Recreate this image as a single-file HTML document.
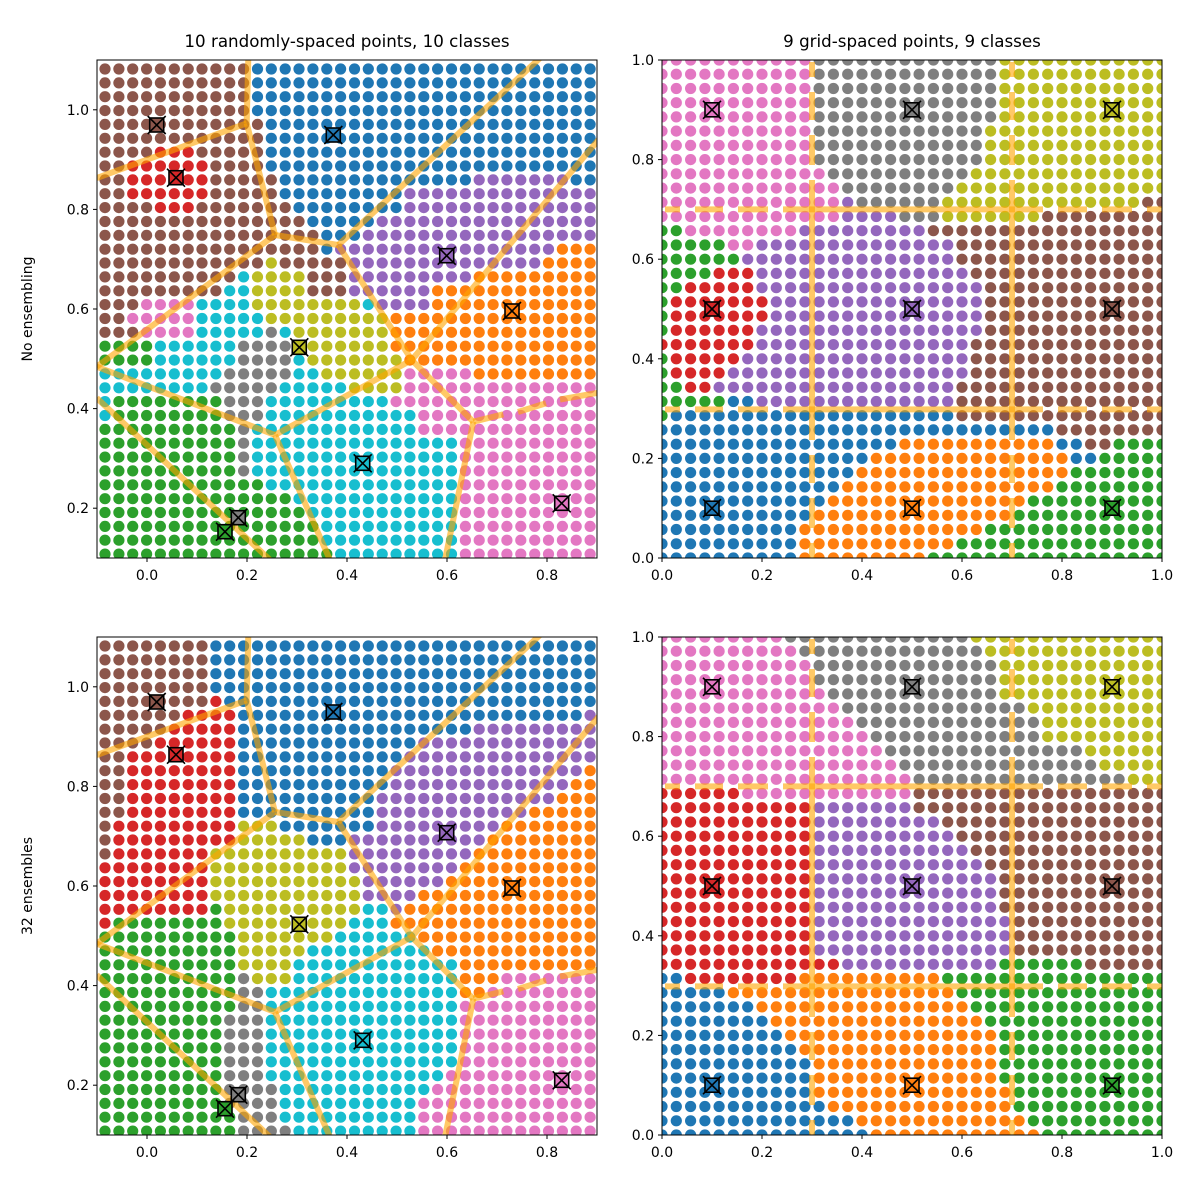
<!DOCTYPE html>
<html><head><meta charset="utf-8"><style>
html,body{margin:0;padding:0;background:#fff;}
svg{display:block;font-family:"DejaVu Sans","Liberation Sans",sans-serif;}
</style></head><body>
<svg id="s" width="1200" height="1200" xmlns="http://www.w3.org/2000/svg"></svg>
<script>
const C={b:'#1f77b4',o:'#ff7f0e',g:'#2ca02c',r:'#d62728',p:'#9467bd',n:'#8c564b',k:'#e377c2',y:'#7f7f7f',l:'#bcbd22',c:'#17becf'};
function ex(s){let r=s.split(' ').map(t=>t[0].repeat(+t.slice(1))).join('');while(r.length<36)r+=r[r.length-1];return r.slice(0,36);}
function rep(a,n){return Array(n).fill(a);}
const TL=[...rep("n11 b25",4),"n12 b24","n12 b24","n4 r3 n5 b24","n2 r6 n4 b24","n2 r6 n5 b14 p7 b2","n2 r6 n5 b9 p14","n4 r3 n7 b8 p14","n15 b5 p16","n16 b3 p17","n16 b1 p16 o3","n12 l1 n5 p14 o4","n10 c1 l4 n3 p9 o9","n9 c2 l4 n3 p6 o12","n3 k4 c4 l8 c1 p4 o12","n2 k5 c5 l9 o15","n3 k4 c5 y1 c1 l7 o15","g4 c6 y4 l7 o15","g4 c6 y4 c1 l7 o14","c9 y5 c2 l6 k5 o9","c8 y5 c5 l4 k14","c1 g8 y3 c9 k15","c1 g8 y3 c11 k13","g10 y1 c12 k13","g10 y1 c15 k10","g10 y1 c15 k10","g10 y1 c15 k10","g12 c14 k10","g14 c12 k10","g15 c11 k10","g16 c10 k10","g16 c10 k10","g17 c9 k10"];
const BL=[...rep("n8 b28",4),"n8 r1 b27","n6 r4 b25 p1","n5 r5 b17 p9","n4 r6 b13 p13","n2 r8 b12 p14","n2 r8 b11 p14 o1","n2 r8 b11 p13 o2","n2 r8 b10 p13 o3","n2 r8 b10 p11 o5","n1 r9 l3 b7 p9 o7","n1 r9 l5 b3 p10 o8","n1 r7 l10 p9 o9","r8 l10 p8 o10","r8 l11 p6 o11","r8 l11 p4 o13","r8 g1 l10 c2 p1 o14","r1 g8 l9 c3 o15","g10 l7 c6 o13","g10 l5 c9 o12","g10 l4 c12 o10","g10 y1 l3 c12 o3 k7","g10 y2 c14 o2 k8","g10 y2 c14 k10","g9 y3 c14 k10","g9 y3 c14 k10","g9 y3 c14 k10","g9 y3 c14 k10","g9 y3 c13 k11","g9 y4 c11 k12","g9 y4 c10 k13","g10 y3 c10 k13","g10 y4 c9 k13"];
const TR=[...rep("k11 y13 l12",5),"k11 y12 l13","k11 y12 l13","k11 y12 l13","k12 y10 l14","k13 y8 l15","k13 p1 y6 l14 n2","k13 p4 y3 l7 n9","g2 k8 p9 n17","g5 k2 p14 n15","g6 p15 n15","g4 r3 p15 n14","g2 r5 p16 n13","g1 r7 p15 n13","g1 r7 p15 n13","g1 r6 p16 n13","r7 p15 n14","g1 r5 p16 n14","g1 r4 p17 n14","g2 r2 p17 n15","g5 b2 p14 n15","g1 b20 n15","b28 n8","b17 o11 b2 n2 g4","b15 o14 b2 g5","b14 o15 g7","b13 o15 g8","b12 o14 g10","b11 o14 g11","b10 o13 g13","b10 o11 g15","b10 o9 g17"];
const BR=["k9 y13 l14","k10 y13 l13","k11 y13 l12","k11 y13 l12","k12 y12 l12","k13 y13 l10","k14 y13 l9","k15 y12 l9","k16 y14 l6","k17 y14 l5","k18 y15 l3","r6 k12 n18","r11 p7 n18","r11 p9 n16","r11 p10 n15","r11 p11 n14","r11 p12 n13","r11 p13 n12","r11 p13 n12","r11 p13 n12","r11 p14 n11","r11 p14 n11","r11 p14 n11","r13 p11 g6 n6","b2 r8 o10 g16","b5 o16 g15","b7 o15 g14","b8 o15 g13","b9 o15 g12","b10 o14 g12","b11 o13 g12","b11 o13 g12","b11 o14 g11","b12 o13 g11","b14 o12 g10","b15 o12 g9"];
let h='';
const panels=[
 {ax:[97,60],rows:TL,gx:105,gy:69,dx:13.86,dy:13.86,left:true},
 {ax:[97,637],rows:BL,gx:105,gy:646,dx:13.86,dy:13.86,left:true},
 {ax:[662,60],rows:TR,gx:662,gy:60,dx:500/35,dy:498/35,left:false},
 {ax:[662,637],rows:BR,gx:662,gy:637,dx:500/35,dy:498/35,left:false}];
const OL='stroke="rgba(255,165,0,0.6)" stroke-width="6" fill="none"';
function seg(a,b,c,d){return `<line x1="${a}" y1="${b}" x2="${c}" y2="${d}" ${OL}/>`;}
panels.forEach((P,pi)=>{
 const [x0,y0]=P.ax;
 h+=`<clipPath id="cp${pi}"><rect x="${x0}" y="${y0}" width="500" height="498"/></clipPath><g clip-path="url(#cp${pi})">`;
 P.rows.forEach((rs,j)=>{const r=ex(rs);for(let i=0;i<36;i++){h+=`<circle cx="${(P.gx+i*P.dx).toFixed(1)}" cy="${(P.gy+j*P.dy).toFixed(1)}" r="5.6" fill="${C[r[i]]}"/>`;}});
 if(P.left){
  const o=y0-60;
  const L=[[96.7,178,246.7,123.3],[246.7,123.3,248.3,58],[246.7,123.3,275,235],[275,235,338.3,245],[275,235,96.7,366.7],[338.3,245,540,58],[338.3,245,411.7,360],[411.7,360,600,138],[411.7,360,473.3,421.7],[473.3,421.7,503.3,414.3],[518,412,546,403.3],[560,399.5,597,393],[473.3,421.7,445,560],[411.7,360,275,435],[96.7,366.7,275,435],[96.7,398,270,560],[275,435,330,560]];
  L.forEach(s=>h+=seg(s[0],s[1]+o,s[2],s[3]+o));
 } else {
  const o=y0-60;
  const xs=[[665,680],[695,723],[738,768],[783,1043],[1058,1087],[1102,1132],[1147,1162]];
  const ys=[[62,77],[92,120],[135,165],[180,440],[455,483],[498,528],[543,558]];
  [209.4,409.4].forEach(yy=>xs.forEach(s=>h+=seg(s[0],yy+o,s[1],yy+o)));
  [812,1012].forEach(xx=>ys.forEach(s=>h+=seg(xx,s[0]+o,xx,s[1]+o)));
 }
 let M;
 if(P.left){M=[[156.7,125,'n'],[176,177.7,'r'],[333.3,135,'b'],[446.7,255.7,'p'],[512,311,'o'],[299.3,347.3,'l'],[362.7,463.3,'c'],[561.7,503.3,'k'],[238.3,517.7,'y'],[225,531.7,'g']].map(m=>[m[0],m[1]+y0-60,m[2]]);}
 else{const xs=[712,912,1112],ys=[109.8,309,508.2],cl=[['k','y','l'],['r','p','n'],['b','o','g']];M=[];for(let a=0;a<3;a++)for(let b=0;b<3;b++)M.push([xs[b],ys[a]+y0-60,cl[a][b]]);}
 M.forEach(m=>{const [x,y,c]=m;h+=`<rect x="${x-7}" y="${y-7}" width="14" height="14" fill="${C[c]}" stroke="#000" stroke-width="1.6"/><line x1="${x-9}" y1="${y-9}" x2="${x+9}" y2="${y+9}" stroke="#000" stroke-width="1.6"/><line x1="${x+9}" y1="${y-9}" x2="${x-9}" y2="${y+9}" stroke="#000" stroke-width="1.6"/>`;});
 h+='</g>';
 h+=`<rect x="${x0}" y="${y0}" width="500" height="498" fill="none" stroke="#000" stroke-width="1"/>`;
 let xt,yt;
 if(P.left){xt=[0,0.2,0.4,0.6,0.8].map(t=>[x0+500*(t+0.1),t]);yt=[0.2,0.4,0.6,0.8,1.0].map(t=>[y0+498*(1.1-t),t]);}
 else{xt=[0,0.2,0.4,0.6,0.8,1.0].map(t=>[x0+500*t,t]);yt=[0,0.2,0.4,0.6,0.8,1.0].map(t=>[y0+498*(1-t),t]);}
 xt.forEach(([x,t])=>{h+=`<line x1="${x}" y1="${y0+498}" x2="${x}" y2="${y0+502}" stroke="#000"/><text x="${x}" y="${y0+520}" font-size="14" text-anchor="middle">${t.toFixed(1)}</text>`;});
 yt.forEach(([y,t])=>{h+=`<line x1="${x0-4}" y1="${y}" x2="${x0}" y2="${y}" stroke="#000"/><text x="${x0-8}" y="${y+5}" font-size="14" text-anchor="end">${t.toFixed(1)}</text>`;});
});
h+=`<text x="347" y="47" font-size="16.7" text-anchor="middle">10 randomly-spaced points, 10 classes</text>`;
h+=`<text x="912" y="47" font-size="16.7" text-anchor="middle">9 grid-spaced points, 9 classes</text>`;
h+=`<text transform="translate(32,309) rotate(-90)" font-size="14" text-anchor="middle">No ensembling</text>`;
h+=`<text transform="translate(32,886) rotate(-90)" font-size="14" text-anchor="middle">32 ensembles</text>`;
document.getElementById('s').innerHTML=h;
</script>
</body></html>
